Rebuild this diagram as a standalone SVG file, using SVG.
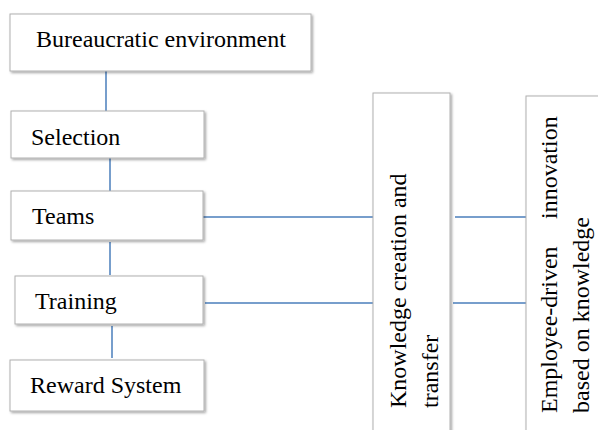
<svg xmlns="http://www.w3.org/2000/svg" width="598" height="430" viewBox="0 0 598 430">
<defs>
<filter id="sh" x="-10%" y="-10%" width="130%" height="130%">
<feDropShadow dx="1.5" dy="1.5" stdDeviation="1.2" flood-color="#000" flood-opacity="0.35"/>
</filter>
<style>
.box{fill:#fff;stroke:#b0b0b0;stroke-width:1;filter:url(#sh)}
.t{font-family:"Liberation Serif","Times New Roman",serif;font-size:24px;fill:#000}
.c{stroke:#4a7ebb;stroke-width:1.5;fill:none}
</style>
</defs>
<rect width="598" height="430" fill="#fff"/>
<g id="connectors">
<line class="c" x1="106" y1="71" x2="106" y2="111"/>
<line class="c" x1="110" y1="158" x2="110" y2="191"/>
<line class="c" x1="110" y1="242" x2="110" y2="275"/>
<line class="c" x1="112" y1="326" x2="112" y2="358"/>
<line class="c" x1="203" y1="217" x2="373" y2="217"/>
<line class="c" x1="205" y1="303" x2="373" y2="303"/>
<line class="c" x1="455" y1="217" x2="526" y2="217"/>
<line class="c" x1="453" y1="303" x2="526" y2="303"/>
</g>
<g id="bureaucratic">
<rect class="box" x="10" y="14" width="301" height="57"/>
<text class="t" x="36" y="47">Bureaucratic environment</text>
</g>
<g id="selection">
<rect class="box" x="11" y="111" width="193" height="47"/>
<text class="t" x="31" y="145">Selection</text>
</g>
<g id="teams">
<rect class="box" x="11" y="191" width="192" height="49"/>
<text class="t" x="32" y="224">Teams</text>
</g>
<g id="training">
<rect class="box" x="15" y="276" width="188" height="48"/>
<text class="t" x="35" y="309">Training</text>
</g>
<g id="reward">
<rect class="box" x="10" y="360" width="194" height="51"/>
<text class="t" x="30" y="393">Reward System</text>
</g>
<g id="knowledge">
<rect class="box" x="373" y="93" width="77" height="345"/>
<text class="t" transform="translate(406,408) rotate(-90)">Knowledge creation and</text>
<text class="t" transform="translate(438,408) rotate(-90)">transfer</text>
</g>
<g id="innovation">
<rect class="box" x="526" y="96" width="80" height="345"/>
<text class="t" transform="translate(557,413) rotate(-90)">Employee-driven<tspan x="194">innovation</tspan></text>
<text class="t" transform="translate(589,413) rotate(-90)">based on knowledge</text>
</g>
</svg>
